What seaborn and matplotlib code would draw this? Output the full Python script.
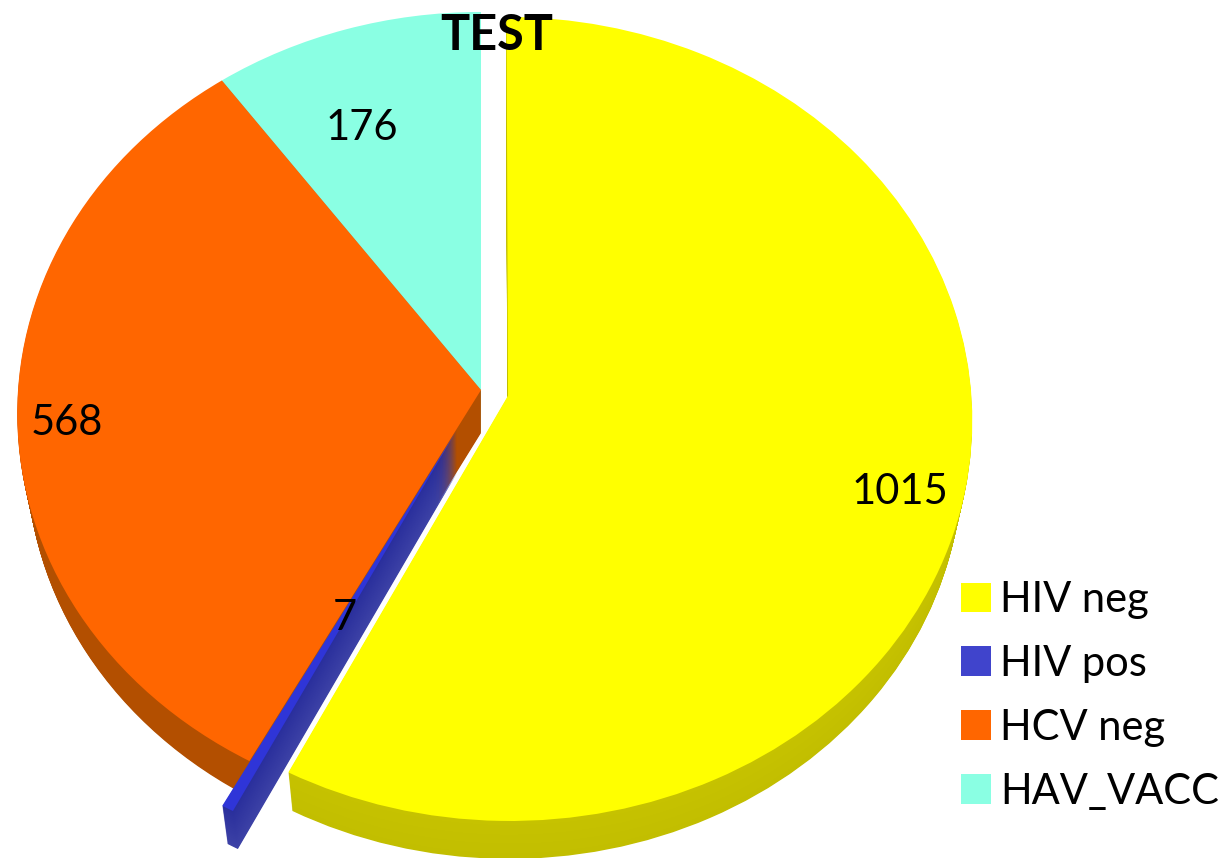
import numpy as np
import matplotlib
matplotlib.use('Agg')
import matplotlib.pyplot as plt
from matplotlib.patches import PathPatch
from matplotlib.transforms import Transform
import seaborn as sns

categories = ['HIV neg', 'HIV pos', 'HCV neg', 'HAV_VACC']
counts = [1015, 7, 568, 176]
explode = [0.06, 0.113, 0, 0]

sns.set_theme(style='white')
plt.rcParams['font.family'] = ['Lato', 'DejaVu Sans']

top_colors = sns.color_palette(['#ffff00', '#2f35d8', '#ff6600', '#8affe3'])
side_start = ['#c6c200', '#2a2f9c', '#b34f00', '#6cc9b3']
side_end = ['#c2be00', '#3d42a6', '#b34f00', '#6cc9b3']


# tilted pie: unit circle -> pixels, like the old 3d pie look
class Tilt(Transform):
    input_dims = 2
    output_dims = 2
    is_separable = False
    has_inverse = False

    def __init__(self, drop=0.0):
        super().__init__()
        self.drop = drop

    def transform_non_affine(self, values):
        values = np.asarray(values)
        x, y = values[:, 0], values[:, 1]
        w = 1 + 0.0581 * y
        sx = 463 * (1 - 0.02 * self.drop)
        # wall is a bit taller at the middle than at the front rim
        dy = (43 + 5 * y) * self.drop
        return np.column_stack([481 + sx * x / w, 390 + dy - 400 * y / w])


fig = plt.figure(figsize=(12.25, 8.58), dpi=100)
ax = fig.add_axes([0, 0, 1, 1])
wedges, _ = ax.pie(counts, colors=top_colors, explode=explode, startangle=90,
                   counterclock=False, frame=False,
                   wedgeprops={'linewidth': 0})
ax.set_aspect('auto')
ax.set_xlim(0, 1225)
ax.set_ylim(858, 0)
ax.axis('off')

# back to front: cyan and orange, then blue, then yellow
order = [3, 2, 1, 0]
z = 1
steps = 43
for i in order:
    w = wedges[i]
    c0 = np.array(matplotlib.colors.to_rgb(side_start[i]))
    c1 = np.array(matplotlib.colors.to_rgb(side_end[i]))
    for s in range(steps, 0, -1):
        t = s / steps
        ax.add_patch(PathPatch(w.get_path(), facecolor=c0 + (c1 - c0) * t, edgecolor='none',
                               linewidth=0, zorder=z,
                               transform=Tilt(t) + ax.transData))
    w.set_transform(Tilt() + ax.transData)
    w.set_zorder(z + 1)
    z += 2

ax.text(900, 492, '1015', fontsize=30, ha='center', va='center', color='black', zorder=20)
ax.text(67, 423, '568', fontsize=30, ha='center', va='center', color='black', zorder=20)
ax.text(362, 128, '176', fontsize=30, ha='center', va='center', color='black', zorder=20)
ax.text(345, 618, '7', fontsize=30, ha='center', va='center', color='black', zorder=20)
ax.text(497, 36, 'TEST', fontsize=35, fontweight='bold', ha='center', va='center',
        color='black', zorder=20)

leg = ax.legend(wedges, categories, loc='upper left', bbox_to_anchor=(961 / 1225, 1 - 581 / 858),
                frameon=False, fontsize=30, handlelength=0.72, handleheight=0.72,
                handletextpad=0.22, labelspacing=0.62, borderpad=0, borderaxespad=0,
                labelcolor='black')
leg.get_patches()[1].set_facecolor('#4044cc')
leg.set_zorder(20)

fig.savefig('out.png', dpi=100)
